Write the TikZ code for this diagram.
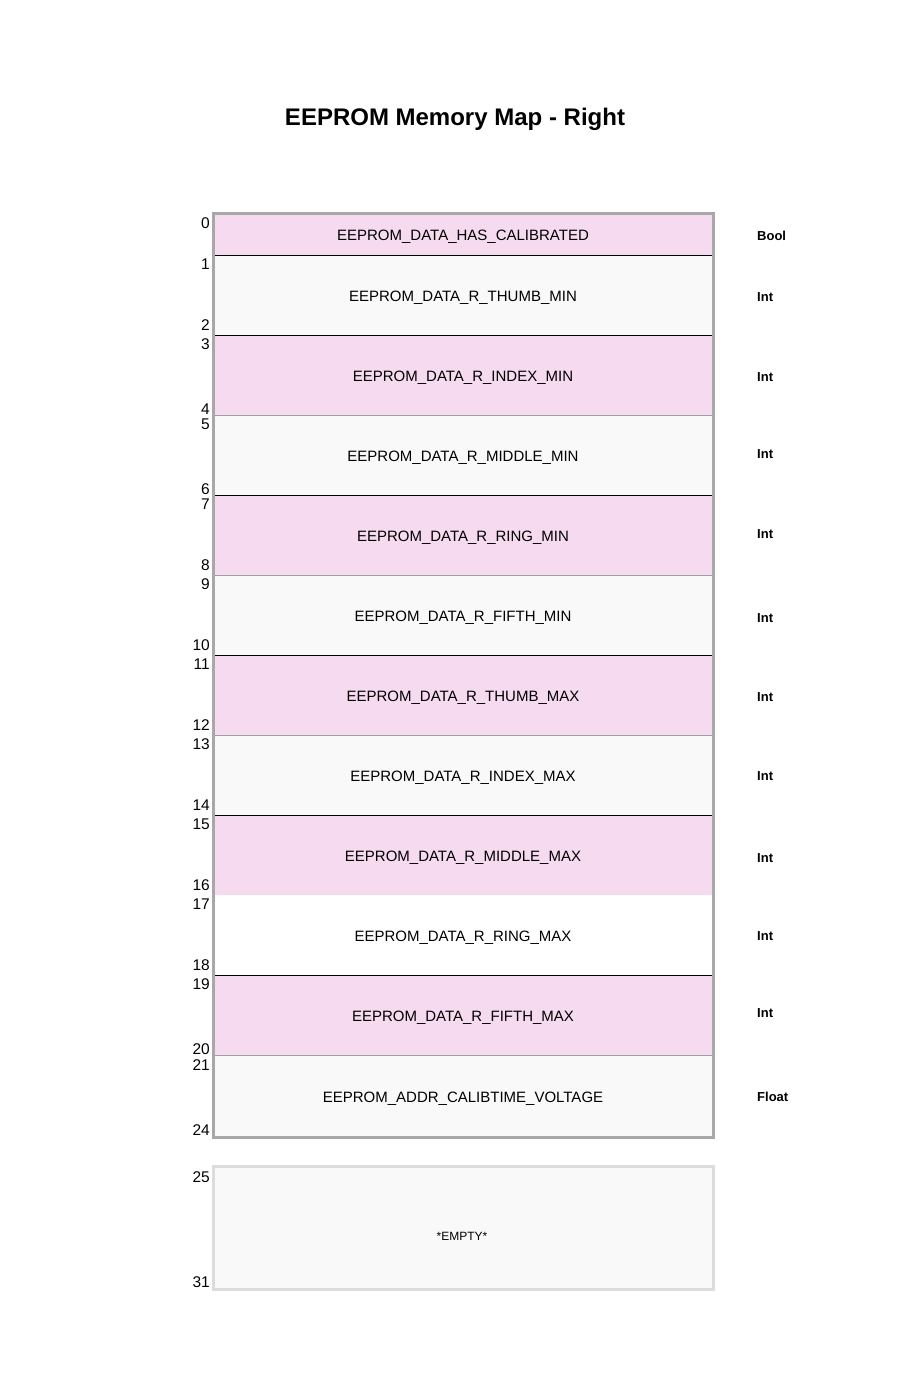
\documentclass[tikz,border=0pt]{standalone}
\usepackage{fontspec}
\setmainfont{Liberation Sans}
\definecolor{pinkfill}{HTML}{F5DAF0}
\definecolor{grayfill}{HTML}{F9F9F9}
\definecolor{whitefill}{HTML}{FFFFFF}
\definecolor{outerborder}{HTML}{A8A8A8}
\definecolor{emptyborder}{HTML}{DCDCDC}
\definecolor{sepgray}{HTML}{A0A0A0}
\tikzset{
  rowtext/.style={font=\fontsize{15}{18}\selectfont, inner sep=0pt, text=black},
  typetext/.style={font=\fontsize{13}{15}\selectfont\bfseries, anchor=west, inner sep=0pt},
  addrtext/.style={font=\fontsize{15.5}{18}\selectfont, anchor=east, inner sep=0pt},
  titletext/.style={font=\fontsize{24}{28}\selectfont\bfseries, inner sep=0pt},
  sepblack/.style={draw=black, line width=1pt},
  sepgrayline/.style={draw=sepgray, line width=1pt},
}
\begin{document}
\begin{tikzpicture}[x=1pt,y=-1pt]
\useasboundingbox (0,0) rectangle (906,1390);
\fill[white] (0,0) rectangle (906,1390);
\node[titletext] (title) at (455,119) {EEPROM Memory Map - Right};
% row fills and labels
\foreach \t/\b/\c/\lbl/\ty/\tyy [count=\i] in {
  213/255/pinkfill/EEPROM\_DATA\_HAS\_CALIBRATED/Bool/236,
  255/335/grayfill/EEPROM\_DATA\_R\_THUMB\_MIN/Int/297,
  335/415/pinkfill/EEPROM\_DATA\_R\_INDEX\_MIN/Int/377,
  415/495/grayfill/EEPROM\_DATA\_R\_MIDDLE\_MIN/Int/454,
  495/575/pinkfill/EEPROM\_DATA\_R\_RING\_MIN/Int/534,
  575/655/grayfill/EEPROM\_DATA\_R\_FIFTH\_MIN/Int/618,
  655/735/pinkfill/EEPROM\_DATA\_R\_THUMB\_MAX/Int/697,
  735/815/grayfill/EEPROM\_DATA\_R\_INDEX\_MAX/Int/776,
  815/895/pinkfill/EEPROM\_DATA\_R\_MIDDLE\_MAX/Int/858,
  895/975/whitefill/EEPROM\_DATA\_R\_RING\_MAX/Int/936,
  975/1055/pinkfill/EEPROM\_DATA\_R\_FIFTH\_MAX/Int/1013,
  1055/1137/grayfill/EEPROM\_ADDR\_CALIBTIME\_VOLTAGE/Float/1097}
{
  \fill[\c] (213,\t) rectangle (713,\b);
  \node[rowtext] (row\i) at (463,{(\t+\b)/2+2.5}) {\lbl};
  \node[typetext] (type\i) at (757,\tyy) {\ty};
}
% separators
\foreach \y in {255,335,495,655,815,975} \draw[sepblack] (213,\y) -- (713,\y);
\foreach \y in {415,575,735,1055} \draw[sepgrayline] (213,\y) -- (713,\y);
% outer border
\draw[outerborder, line width=3pt] (213,213) rectangle (713,1137);
% address labels
\foreach \n/\yy in {0/223,1/264,2/325,3/344,4/409,5/424,6/489,7/504,8/565,9/584,10/645,11/664,12/725,13/744,14/805,15/824,16/885,17/904,18/965,19/984,20/1049,21/1065,24/1130,25/1177,31/1282}
  \node[addrtext] (addr\n) at (210,\yy) {\n};
% empty block
\draw[emptyborder, fill=grayfill, line width=3pt] (213,1166) rectangle (713,1289);
\node[font=\fontsize{12}{14}\selectfont, inner sep=0pt] (empty) at (462,1236) {*EMPTY*};
\end{tikzpicture}
\end{document}
